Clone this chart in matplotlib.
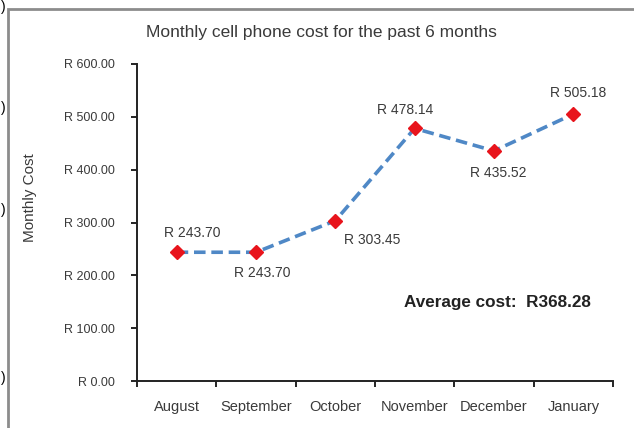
import numpy as np
import matplotlib.pyplot as plt
from matplotlib.patches import Rectangle

plt.rcParams['font.family'] = ['Liberation Sans', 'DejaVu Sans']

months = ["August", "September", "October", "November", "December", "January"]
cost = [243.70, 243.70, 303.45, 478.14, 435.52, 505.18]
# label offsets (pixels) relative to each point
label_dx = [16, 6, 37, -10, 4, 5]
label_dy = [19, -21, -19, 18, -22, 21]

TEXT = "#3a3a3a"

fig = plt.figure(figsize=(6.34, 4.28), dpi=100)
fig.patch.set_facecolor("white")

# outer chart frame
fig.patches.append(Rectangle((8 / 634, -0.05), 1.0, 1 - 9 / 428 + 0.05,
                             transform=fig.transFigure, fill=False,
                             edgecolor="#8c8c8c", linewidth=2.0))
for yy in [7, 108, 210, 378]:
    fig.text(0.5 / 634, 1 - yy / 428, ")", fontsize=10, color="black",
             ha="left", va="center")

ax = fig.add_axes([137 / 634, 1 - 381 / 428, (613 - 137) / 634, (381 - 64) / 428])
x = np.arange(len(months))
ax.plot(x, cost, linestyle=(0, (3.2, 1.6)), color="#4f88c6", linewidth=2.6,
        marker="D", markersize=7, markerfacecolor="#e8141c",
        markeredgecolor="#e8141c", zorder=3)

for i, v in enumerate(cost):
    ax.annotate(f"R {v:.2f}", (x[i], v), xytext=(label_dx[i], label_dy[i]),
                textcoords="offset pixels", ha="center", va="center",
                fontsize=10, color=TEXT)

ax.set_xlim(-0.5, len(months) - 0.5)
ax.set_ylim(0, 600)
ax.set_yticks(np.arange(0, 601, 100))
ax.set_yticklabels([f"R {t:.2f}" for t in np.arange(0, 601, 100)],
                   fontsize=9, color=TEXT)
ax.set_xticks(x)
ax.set_xticklabels(months, fontsize=10.5, color=TEXT)
ax.set_xticks(np.arange(-0.5, len(months)), minor=True)
ax.tick_params(axis="x", which="major", length=0, pad=14)
ax.tick_params(axis="x", which="minor", length=4, width=1.2, direction="out")
ax.tick_params(axis="y", length=4, width=1.2, direction="out", pad=12)

for s in ["top", "right"]:
    ax.spines[s].set_visible(False)
for s in ["left", "bottom"]:
    ax.spines[s].set_linewidth(1.4)
    ax.spines[s].set_color("#222222")

fig.text(321 / 634, 1 - 33 / 428, "Monthly cell phone cost for the past 6 months",
         ha="center", va="center", fontsize=12.5, color=TEXT)
fig.text(30 / 634, 1 - 198 / 428, "Monthly Cost", rotation=90,
         ha="center", va="center", fontsize=11, color=TEXT)

avg = np.mean(cost)
fig.text(497 / 634, 1 - 303 / 428, f"Average cost:  R{avg:.2f}",
         ha="center", va="center", fontsize=12.3, fontweight="bold", color="#222222")

fig.savefig("out.png", dpi=100, facecolor="white")
